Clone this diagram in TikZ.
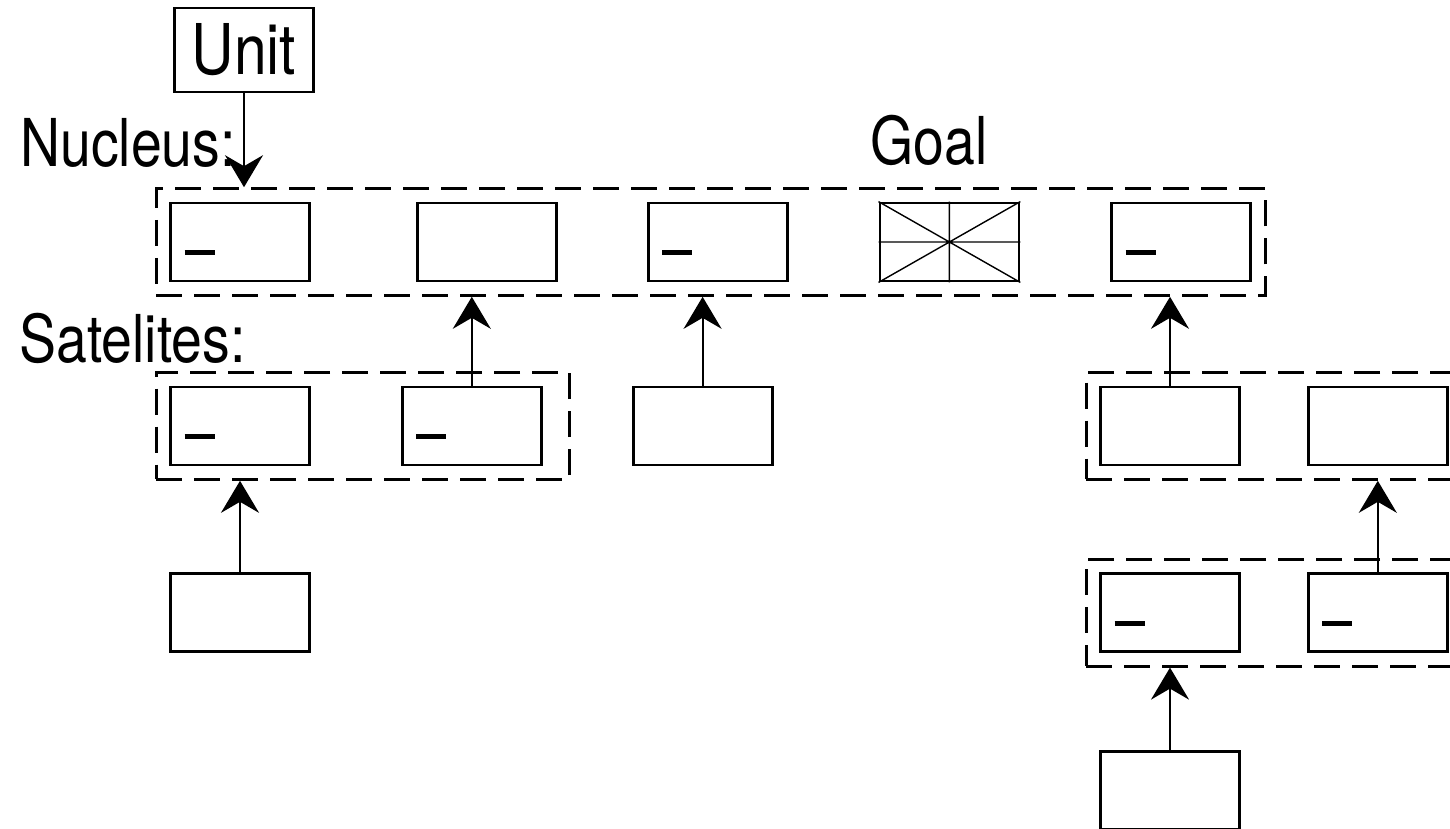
\documentclass[tikz,border=0pt]{standalone}
\usepackage{fontspec}
\setmainfont{TeX Gyre Heros}[FakeStretch=0.84]
\usepackage{tikz}
\usetikzlibrary{positioning,fit,arrows.meta}

\begin{document}
\begin{tikzpicture}[
    x=1pt, y=1pt,
    slot/.style={rectangle, draw, line width=2.8pt, minimum width=139pt, minimum height=78pt, inner sep=0pt},
    marked/.style={slot, path picture={\draw[line width=5.5pt] ([xshift=14pt,yshift=-10.5pt]path picture bounding box.west) -- ++(30pt,0);}},
    group/.style={draw, dash pattern=on 26pt off 12pt, line width=2.8pt, inner sep=13pt},
    heading/.style={font=\fontsize{66}{70}\selectfont, inner sep=0pt},
    arrow/.style={-{Stealth[length=32pt,width=38pt,inset=11pt]}, line width=2.2pt}
]
    \useasboundingbox (0,0) rectangle (1450,-828);

    % Nucleus row
    \node[marked] (n1) at (240,-242) {};
    \node[slot, right=105pt of n1] (n2) {};
    \node[marked, right=89pt of n2] (n3) {};
    \node[slot, right=90pt of n3] (goal) {};
    \node[marked, right=90pt of goal] (n5) {};
    \draw[line width=1.4pt] (goal.north west) -- (goal.south east)
        (goal.south west) -- (goal.north east)
        (goal.north) -- (goal.south) (goal.west) -- (goal.east);
    \node[group, fit={(n1)(n5)}] (nucleus) {};

    % Unit
    \node[slot, minimum height=84pt, heading, font=\fontsize{70}{74}\selectfont] (unit) at (244,-50) {Unit};
    \draw[arrow] (unit) -- (unit |- nucleus.north);

    % Labels
    \node[heading, anchor=base west] (nuclab) at (20,-166) {Nucleus:};
    \node[heading, anchor=base] (goallab) at (929,-164) {Goal};
    \node[heading, anchor=base west] (satlab) at (19,-362) {Satelites:};

    % Satellites
    \node[marked] (s1) at (240,-426) {};
    \node[marked, right=90pt of s1] (s2) {};
    \coordinate (sedge) at ([xshift=14pt]s2.east);
    \node[group, fit={(s1)(s2)(sedge)}] (sats) {};
    \node[slot, right=89pt of s2] (b3) {};
    \node[slot, below=106pt of s1] (l1) {};

    % Right side (groups run on past the edge)
    \node[slot] (r1) at (1170,-426) {};
    \node[slot, right=66pt of r1] (r2) {};
    \coordinate (uedge) at ([xshift=60pt]r2.east);
    \node[group, fit={(r1)(r2)(uedge)}] (upper) {};
    \node[marked, below=106pt of r1] (r3) {};
    \node[marked, right=66pt of r3] (r4) {};
    \coordinate (ledge) at ([xshift=60pt]r4.east);
    \node[group, fit={(r3)(r4)(ledge)}] (lower) {};
    \node[slot, below=97pt of r3] (r5) {};

    % Arrows
    \draw[arrow] (s2) -- (s2 |- nucleus.south);
    \draw[arrow] (b3) -- (b3 |- nucleus.south);
    \draw[arrow] (r1) -- (r1 |- nucleus.south);
    \draw[arrow] (l1) -- (l1 |- sats.south);
    \draw[arrow] (r4) -- (r4 |- upper.south);
    \draw[arrow] (r5) -- (r5 |- lower.south);
\end{tikzpicture}
\end{document}
